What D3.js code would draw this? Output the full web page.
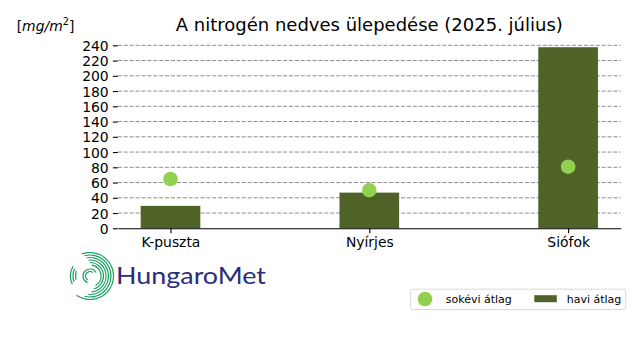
<!DOCTYPE html>
<html>
<head>
<meta charset="utf-8">
<script src="https://cdn.jsdelivr.net/npm/d3@7"></script>
<style>
  html, body { margin: 0; padding: 0; background: #fff; }
  svg { display: block; font-family: "DejaVu Sans", sans-serif; }
</style>
</head>
<body>
<svg id="chart" width="640" height="360"></svg>
<script>
const categories = ["K-puszta", "Nyírjes", "Siófok"];
const monthly = [29.4, 46.8, 237.5];       // havi átlag (bars)
const longTerm = [64.7, 50.0, 80.8];       // sokévi átlag (points)
const yTicks = [0, 20, 40, 60, 80, 100, 120, 140, 160, 180, 200, 220, 240];
const titleText = "A nitrogén nedves ülepedése (2025. július)";
const legendLabels = ["sokévi átlag", "havi átlag"];

const barColor = "#4f6228";
const dotColor = "#92d050";

const svg = d3.select("#chart");

const x = d3.scaleLinear().domain([-0.265, 2.265]).range([117.8, 620.8]);
const y = d3.scaleLinear().domain([0, 240]).range([228.3, 45.3]);
const barW = x(0.3) - x(0);

// gridlines
svg.append("g").selectAll("line").data(yTicks.filter(d => d > 0)).join("line")
  .attr("x1", x.range()[0]).attr("x2", x.range()[1])
  .attr("y1", d => y(d)).attr("y2", d => y(d))
  .attr("stroke", "#808080").attr("stroke-width", 0.9)
  .attr("stroke-dasharray", "4.1,1.8");

// bars
svg.append("g").selectAll("rect").data(monthly).join("rect")
  .attr("x", (d, i) => x(i) - barW / 2)
  .attr("width", barW)
  .attr("y", d => y(d))
  .attr("height", d => y(0) - y(d))
  .attr("fill", barColor);

// points
svg.append("g").selectAll("circle").data(longTerm).join("circle")
  .attr("cx", (d, i) => x(i))
  .attr("cy", d => y(d))
  .attr("r", 7.3)
  .attr("fill", dotColor);

// y axis (no spine)
const yAxis = d3.axisLeft(y).tickValues(yTicks).tickSize(4.9).tickPadding(4.2);
const gy = svg.append("g").attr("transform", `translate(${x.range()[0]},0)`).call(yAxis);
gy.select(".domain").remove();
gy.selectAll("text").attr("font-size", "13.9px").attr("font-family", "DejaVu Sans").attr("fill", "#000").attr("dy", "0.36em");
gy.selectAll("line").attr("stroke", "#000").attr("stroke-width", 1.1);

// x axis
const xAxis = d3.axisBottom(x).tickValues([0, 1, 2]).tickFormat(i => categories[i]).tickSize(4.9).tickPadding(3.8).tickSizeOuter(0);
const gx = svg.append("g").attr("transform", `translate(0,${y(0)})`).call(xAxis);
gx.select(".domain").attr("stroke", "#000").attr("stroke-width", 1.1);
gx.selectAll("text").attr("font-size", "13.9px").attr("font-family", "DejaVu Sans").attr("fill", "#000");
gx.selectAll("line").attr("stroke", "#000").attr("stroke-width", 1.1);

// title
svg.append("text").attr("x", 369.3).attr("y", 30.5).attr("text-anchor", "middle")
  .attr("font-size", "18px").attr("fill", "#000").text(titleText);

// unit label
const unit = svg.append("text").attr("x", 16.7).attr("y", 30.5).attr("font-size", "13.9px").attr("fill", "#000");
unit.append("tspan").text("[");
unit.append("tspan").attr("font-style", "italic").text("mg/m");
unit.append("tspan").attr("font-size", "9.8px").attr("dy", "-5.5").text("2");
unit.append("tspan").attr("dy", "5.5").text("]");

// legend
const lg = svg.append("g");
lg.append("rect").attr("x", 410.7).attr("y", 289.2).attr("width", 215).attr("height", 20.3)
  .attr("rx", 2).attr("fill", "#fff").attr("stroke", "#d9d9d9").attr("stroke-width", 1);
lg.append("circle").attr("cx", 425).attr("cy", 299).attr("r", 7.3).attr("fill", dotColor);
lg.append("text").attr("x", 445.7).attr("y", 302.8).attr("font-size", "11px").attr("fill", "#000").text(legendLabels[0]);
lg.append("rect").attr("x", 534.3).attr("y", 295.2).attr("width", 22.5).attr("height", 7).attr("fill", barColor);
lg.append("text").attr("x", 566.7).attr("y", 302.8).attr("font-size", "11px").attr("fill", "#000").text(legendLabels[1]);

// logo
const defs = svg.append("defs");
const grad = defs.append("linearGradient").attr("id", "lgrad").attr("gradientUnits", "userSpaceOnUse")
  .attr("x1", 0).attr("y1", 252).attr("x2", 0).attr("y2", 302);
grad.append("stop").attr("offset", "0%").attr("stop-color", "#17a05f");
grad.append("stop").attr("offset", "55%").attr("stop-color", "#1b8f8a");
grad.append("stop").attr("offset", "100%").attr("stop-color", "#2a69b8");
const logo = svg.append("g").attr("transform", "translate(90,276)");
const arc = d3.arc();
const deg = Math.PI / 180;
const rings = [
  {r: 23.5, a0: -20, a1: 215}, {r: 21, a0: -15, a1: 195}, {r: 18.5, a0: -10, a1: 185},
  {r: 16, a0: -5, a1: 175}, {r: 13.5, a0: 0, a1: 165}, {r: 11, a0: 10, a1: 150},
  {r: 19.5, a0: 245, a1: 300}, {r: 17, a0: 250, a1: 295}, {r: 14.5, a0: 255, a1: 290},
  {r: 7, a0: 200, a1: 420}, {r: 4.5, a0: 210, a1: 400}
];
logo.selectAll("path").data(rings).join("path")
  .attr("d", d => arc({innerRadius: d.r - 0.6, outerRadius: d.r + 0.6, startAngle: d.a0 * deg, endAngle: d.a1 * deg}))
  .attr("fill", "url(#lgrad)");
svg.append("text").attr("x", 116).attr("y", 283.5).attr("font-family", "Lato").attr("font-weight", 400)
  .attr("font-size", "23px").attr("fill", "#2b2d7c").attr("textLength", 150).attr("lengthAdjust", "spacingAndGlyphs")
  .text("HungaroMet");
</script>
</body>
</html>
